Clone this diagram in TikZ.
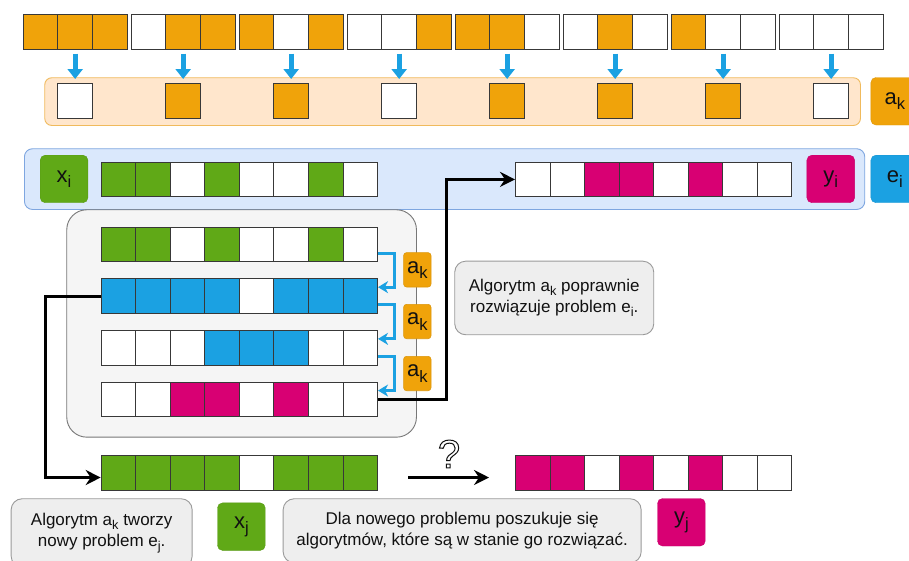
\documentclass[tikz,border=0pt]{standalone}
\usepackage{fontspec}
\usepackage{graphicx}
\setmainfont{Liberation Sans}
\usetikzlibrary{arrows.meta,calc}

\definecolor{cO}{HTML}{F0A30A}
\definecolor{cW}{HTML}{FFFFFF}
\definecolor{cG}{HTML}{60A917}
\definecolor{cB}{HTML}{1BA1E2}
\definecolor{cM}{HTML}{D80073}
\definecolor{cellline}{HTML}{383838}
\definecolor{bandOfill}{HTML}{FFE6CC}
\definecolor{bandOline}{HTML}{F0BA5C}
\definecolor{bandBfill}{HTML}{DAE8FC}
\definecolor{bandBline}{HTML}{7EA6E0}
\definecolor{boxfill}{HTML}{F5F5F5}
\definecolor{boxline}{HTML}{777777}
\definecolor{notefill}{HTML}{EEEEEE}
\definecolor{noteline}{HTML}{9A9A9A}
\definecolor{ink}{HTML}{111111}

% a row of square cells: name, left x, top y, list of fill codes
\newcommand\bitrow[4]{%
  \foreach \c [count=\i from 0] in {#4}
    {\node[cell,fill=c\c] (#1-\i) at ({#2+\i*34.55},#3) {};}%
}
% lowered, reduced index letter
\newcommand\sbs[1]{\raisebox{-0.24em}{\scalebox{0.75}{#1}}}
% glyph drawn as an outline only
\newcommand\outlined[1]{\special{pdf:literal direct q 1 Tr 1 w}#1\special{pdf:literal direct Q}}

\begin{document}
\begin{tikzpicture}[x=1pt,y=-1pt,
  cell/.style={draw=cellline,line width=0.9pt,minimum width=34.55pt,minimum height=34.5pt,
    inner sep=0pt,anchor=north west},
  lbl/.style={rounded corners=5pt,minimum width=47.7pt,minimum height=47.5pt,inner sep=0pt,
    anchor=north west,text=ink,font=\fontsize{22}{26}\selectfont},
  smalllbl/.style={rounded corners=3pt,fill=cO,draw=cO!92!black,line width=0.6pt,
    minimum width=27.4pt,minimum height=34.4pt,inner sep=0pt,anchor=north west,
    text=ink,font=\fontsize{22}{26}\selectfont},
  note/.style={rounded corners=11pt,fill=notefill,draw=noteline,line width=0.9pt,
    align=center,inner sep=0pt,anchor=north west,text=ink,
    font=\fontsize{17}{21.5}\selectfont},
  topar/.style={draw=cB,line width=4.8pt,-{Triangle[width=15pt 0,length=10pt 0]}},
  elbow/.style={draw=cB,line width=3pt,
    -{Stealth[width=12pt 0,length=10pt 0,inset=3pt]}},
  conn/.style={draw=black,line width=3pt,
    -{Stealth[width=15pt 0,length=15pt 0,inset=5pt]}}]

\useasboundingbox (0,0) rectangle (909,560);
\clip (0,0) rectangle (909,560);

% ---- all eight 3-bit patterns and the selected bits
\node[draw=bandOline,fill=bandOfill,line width=0.9pt,rounded corners=7pt,
  minimum width=815.7pt,minimum height=47.7pt,inner sep=0pt,anchor=north west]
  (bandA) at (44.3,77.3) {};
\foreach \g/\p in {1/{O,O,O},2/{W,O,O},3/{O,W,O},4/{W,W,O},
                   5/{O,O,W},6/{W,O,W},7/{O,W,W},8/{W,W,W}}{
  \pgfmathsetmacro\gx{22.7+(\g-1)*108}
  \foreach \c [count=\i from 0] in \p
    {\node[cell,minimum width=34.67pt,fill=c\c] (t\g-\i) at ({\gx+\i*34.67},14.3) {};}
}
\foreach \g/\c in {1/W,2/O,3/O,4/W,5/O,6/O,7/O,8/W}{
  \pgfmathsetmacro\gx{22.7+(\g-1)*108}
  \node[cell,minimum width=34.67pt,fill=c\c] (bq\g) at ({\gx+34.67},83.3) {};
  \draw[topar] ([yshift=-4pt]t\g-1.south) -- ([yshift=4.3pt]bq\g.north);
}
\node[lbl,fill=cO,draw=cO!92!black] (akTop) at (870.7,77.3) {a\sbs{k}};

% ---- problem e_i
\node[draw=bandBline,fill=bandBfill,line width=0.9pt,rounded corners=8pt,
  minimum width=840.3pt,minimum height=60.7pt,inner sep=0pt,anchor=north west]
  (bandE) at (24,148.3) {};
\node[lbl,fill=cG,draw=cG!92!black] (xi) at (40,155) {x\sbs{i}};
\bitrow{xr}{100.7}{161.7}{G,G,W,G,W,W,G,W}
\bitrow{yr}{515}{161.7}{W,W,M,M,W,M,W,W}
\node[lbl,fill=cM,draw=cM!92!black] (yi) at (806.7,155) {y\sbs{i}};
\node[lbl,fill=cB,draw=cB!92!black] (ei) at (870.7,155) {e\sbs{i}};

% ---- steps of the rule a_k
\node[draw=boxline,fill=boxfill,line width=0.9pt,rounded corners=20pt,
  minimum width=349.7pt,minimum height=227.4pt,inner sep=0pt,anchor=north west]
  (steps) at (66.3,209.3) {};
\bitrow{r1}{100.7}{226.7}{G,G,W,G,W,W,G,W}
\bitrow{r2}{100.7}{278.3}{B,B,B,B,W,B,B,B}
\bitrow{r3}{100.7}{330}{W,W,W,B,B,B,W,W}
\bitrow{r4}{100.7}{381.7}{W,W,M,M,W,M,W,W}
\node[smalllbl] (ak1) at (403.3,252.3) {a\sbs{k}};
\node[smalllbl] (ak2) at (403.3,304) {a\sbs{k}};
\node[smalllbl] (ak3) at (403.3,356) {a\sbs{k}};
\foreach \a/\b in {r1/r2,r2/r3,r3/r4}
  \draw[elbow] ($(\a-7.north east)!0.75!(\a-7.south east)$) -- ++(16.5,0)
    |- ($(\b-7.north east)!0.25!(\b-7.south east)$);

% ---- result of the steps
\draw[conn] (r4-7.east) -- ++(68,0) |- (yr-0.west);

\node[note,minimum width=199pt,minimum height=73.6pt] (n1) at (454.3,260.7)
  {Algorytm a\sbs{k} poprawnie\\rozwiązuje problem e\sbs{i}.};

% ---- new problem e_j
\bitrow{xj}{100.7}{455}{G,G,G,G,W,G,G,G}
\bitrow{yj}{515}{455}{M,M,W,M,W,M,W,W}
\draw[conn] (r2-0.west) -- ++(-55.7,0) |- ([yshift=-4.8pt]xj-0.west);
\draw[conn] ([xshift=30pt,yshift=-4.8pt]xj-7.east) -- ([xshift=-26pt,yshift=-4.8pt]yj-0.west);
\node[text=ink,font=\fontsize{40}{40}\selectfont,inner sep=0pt] (qm) at (449,454) {\outlined{?}};

\node[note,minimum width=181pt,minimum height=68.4pt] (n2) at (10.7,498.3)
  {Algorytm a\sbs{k} tworzy\\nowy problem e\sbs{j}.};
\node[lbl,fill=cG,draw=cG!92!black] (xjl) at (217.3,502.7) {x\sbs{j}};
\node[note,minimum width=358pt,minimum height=64pt] (n3) at (282.7,498.3)
  {Dla nowego problemu poszukuje się\\algorytmów, które są w stanie go rozwiązać.};
\node[lbl,fill=cM,draw=cM!92!black] (yjl) at (657.3,498.3) {y\sbs{j}};
\end{tikzpicture}
\end{document}
